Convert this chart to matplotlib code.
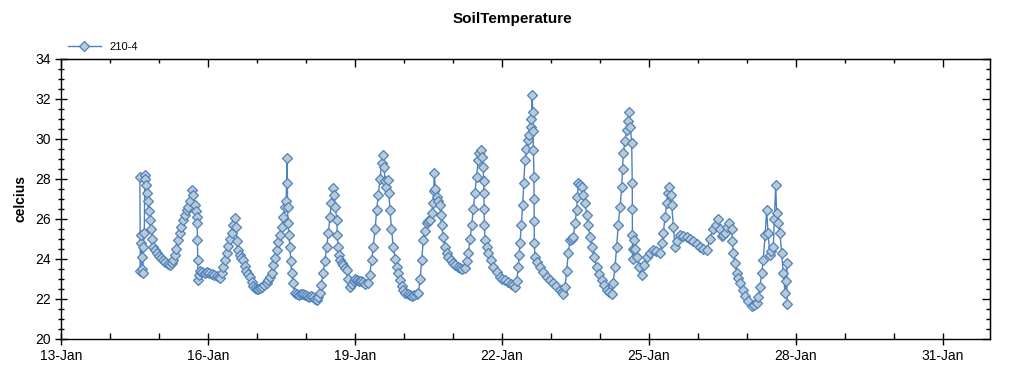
import matplotlib
matplotlib.use("Agg")
import matplotlib.pyplot as plt
import matplotlib.dates as mdates
import pandas as pd

plt.rcParams['font.family'] = ['Liberation Sans', 'DejaVu Sans']

# day of January (fractional) and soil temperature
days = [
    14.61, 14.62, 14.63, 14.64, 14.65, 14.66, 14.67, 14.68, 14.70, 14.71,
    14.72, 14.73, 14.749, 14.77, 14.79, 14.816, 14.84, 14.86, 14.884, 14.91,
    14.953, 15.0, 15.04, 15.082, 15.13, 15.18, 15.224, 15.26, 15.286, 15.32,
    15.35, 15.388, 15.42, 15.455, 15.49, 15.53, 15.565, 15.60, 15.63, 15.667,
    15.70, 15.735, 15.755, 15.776, 15.78, 15.785, 15.79, 15.795, 15.81, 15.84,
    15.88, 15.93, 15.98, 16.03, 16.08, 16.13, 16.18, 16.22, 16.245, 16.28,
    16.31, 16.345, 16.382, 16.415, 16.45, 16.484, 16.52, 16.551, 16.575, 16.59,
    16.612, 16.65, 16.68, 16.714, 16.75, 16.785, 16.82, 16.857, 16.89, 16.925,
    16.959, 17.0, 17.03, 17.061, 17.10, 17.15, 17.198, 17.23, 17.265, 17.300,
    17.335, 17.37, 17.402, 17.435, 17.47, 17.504, 17.54, 17.571, 17.595, 17.618,
    17.62, 17.625, 17.63, 17.65, 17.673, 17.69, 17.708, 17.74, 17.776, 17.82,
    17.86, 17.90, 17.939, 17.98, 18.02, 18.06, 18.10, 18.143, 18.18, 18.218,
    18.25, 18.286, 18.315, 18.347, 18.385, 18.422, 18.455, 18.490, 18.52, 18.551,
    18.575, 18.60, 18.627, 18.64, 18.653, 18.674, 18.694, 18.73, 18.765, 18.80,
    18.831, 18.865, 18.898, 18.93, 18.97, 19.0, 19.035, 19.08, 19.12, 19.163,
    19.21, 19.265, 19.30, 19.341, 19.37, 19.41, 19.443, 19.475, 19.51, 19.545,
    19.578, 19.595, 19.612, 19.64, 19.673, 19.69, 19.714, 19.745, 19.782, 19.82,
    19.85, 19.884, 19.92, 19.95, 19.986, 20.03, 20.082, 20.12, 20.157, 20.21,
    20.259, 20.292, 20.33, 20.361, 20.394, 20.43, 20.463, 20.50, 20.531, 20.565,
    20.598, 20.608, 20.618, 20.64, 20.667, 20.70, 20.735, 20.75, 20.769, 20.80,
    20.837, 20.87, 20.904, 20.95, 21.006, 21.05, 21.10, 21.143, 21.19, 21.245,
    21.28, 21.312, 21.35, 21.382, 21.415, 21.449, 21.48, 21.516, 21.54, 21.565,
    21.59, 21.618, 21.625, 21.633, 21.635, 21.64, 21.653, 21.685, 21.720, 21.77,
    21.822, 21.89, 21.959, 22.01, 22.07, 22.129, 22.18, 22.23, 22.265, 22.30,
    22.333, 22.35, 22.367, 22.395, 22.422, 22.445, 22.469, 22.50, 22.537, 22.56,
    22.586, 22.60, 22.618, 22.625, 22.632, 22.639, 22.653, 22.655, 22.657, 22.66,
    22.673, 22.72, 22.776, 22.84, 22.912, 22.98, 23.047, 23.11, 23.184, 23.22,
    23.251, 23.286, 23.32, 23.353, 23.388, 23.42, 23.455, 23.49, 23.524, 23.54,
    23.557, 23.59, 23.627, 23.66, 23.694, 23.73, 23.761, 23.795, 23.831, 23.88,
    23.933, 23.98, 24.035, 24.085, 24.137, 24.19, 24.239, 24.27, 24.306, 24.34,
    24.373, 24.41, 24.443, 24.46, 24.476, 24.51, 24.545, 24.57, 24.598, 24.62,
    24.647, 24.659, 24.66, 24.662, 24.665, 24.68, 24.694, 24.72, 24.749, 24.80,
    24.851, 24.90, 24.953, 25.02, 25.088, 25.15, 25.224, 25.26, 25.292, 25.33,
    25.361, 25.39, 25.414, 25.44, 25.463, 25.50, 25.531, 25.58, 25.633, 25.70,
    25.769, 25.84, 25.904, 25.97, 26.041, 26.11, 26.178, 26.245, 26.312, 26.36,
    26.414, 26.45, 26.483, 26.52, 26.551, 26.60, 26.639, 26.686, 26.70, 26.720,
    26.755, 26.789, 26.82, 26.857, 26.91, 26.959, 27.03, 27.096, 27.15, 27.198,
    27.23, 27.265, 27.30, 27.333, 27.37, 27.402, 27.43, 27.469, 27.50, 27.537,
    27.56, 27.586, 27.606, 27.64, 27.673, 27.708, 27.741, 27.776, 27.80, 27.810,
    27.82,
]
temps = [
    28.1, 23.4, 24.8, 25.2, 24.1, 23.5, 23.3, 24.6, 25.3, 28.2,
    28.0, 27.7, 27.3, 26.9, 26.4, 25.95, 25.5, 25.0, 24.6, 24.45,
    24.3, 24.15, 24.05, 23.95, 23.85, 23.75, 23.7, 23.8, 23.95, 24.2,
    24.5, 24.95, 25.3, 25.6, 25.95, 26.2, 26.45, 26.6, 26.9, 27.45,
    27.2, 26.7, 26.4, 26.1, 25.8, 24.95, 23.95, 22.95, 23.2, 23.4,
    23.35, 23.3, 23.35, 23.3, 23.25, 23.2, 23.15, 23.1, 23.05, 23.3,
    23.6, 23.95, 24.3, 24.65, 25.0, 25.3, 25.7, 26.05, 25.6, 24.9,
    24.45, 24.2, 24.05, 23.95, 23.65, 23.4, 23.25, 23.1, 22.85, 22.65,
    22.55, 22.5, 22.5, 22.55, 22.6, 22.7, 22.8, 22.95, 23.1, 23.3,
    23.7, 24.05, 24.45, 24.85, 25.2, 25.6, 26.1, 26.6, 26.9, 29.05,
    27.8, 26.6, 25.8, 25.2, 24.6, 23.9, 23.3, 22.8, 22.3, 22.25,
    22.2, 22.25, 22.25, 22.2, 22.15, 22.1, 22.15, 22.1, 22.0, 21.95,
    22.1, 22.3, 22.7, 23.3, 23.9, 24.6, 25.3, 26.1, 26.8, 27.55,
    27.2, 26.6, 25.95, 25.2, 24.6, 24.2, 23.95, 23.8, 23.7, 23.55,
    23.45, 23.0, 22.6, 22.75, 22.9, 23.0, 22.95, 22.9, 22.9, 22.85,
    22.75, 22.8, 23.2, 23.95, 24.6, 25.5, 26.45, 27.2, 28.0, 28.8,
    29.2, 28.6, 27.9, 27.6, 27.95, 27.3, 26.45, 25.5, 24.6, 24.0,
    23.6, 23.3, 22.95, 22.65, 22.45, 22.3, 22.25, 22.2, 22.15, 22.2,
    22.25, 22.3, 23.0, 23.95, 24.95, 25.4, 25.8, 25.9, 25.95, 26.3,
    26.8, 27.4, 28.3, 27.5, 27.1, 26.9, 26.7, 26.2, 25.7, 25.1,
    24.6, 24.3, 24.1, 23.95, 23.8, 23.7, 23.6, 23.55, 23.5, 23.55,
    23.9, 24.3, 25.0, 25.7, 26.5, 27.3, 28.1, 28.95, 29.3, 29.45,
    29.1, 28.6, 27.9, 27.3, 26.5, 25.7, 24.95, 24.6, 24.3, 23.95,
    23.6, 23.35, 23.1, 23.0, 22.95, 22.85, 22.75, 22.7, 22.6, 22.9,
    23.6, 24.2, 24.8, 25.7, 26.7, 27.8, 28.95, 29.5, 29.95, 30.2,
    30.6, 31.0, 32.2, 31.35, 30.4, 29.45, 28.1, 27.0, 25.9, 24.8,
    24.1, 23.85, 23.6, 23.35, 23.1, 22.95, 22.8, 22.65, 22.45, 22.35,
    22.25, 22.6, 23.4, 24.3, 24.95, 25.0, 25.1, 25.8, 26.45, 27.1,
    27.8, 27.7, 27.6, 27.2, 26.8, 26.2, 25.7, 25.1, 24.6, 24.1,
    23.6, 23.25, 22.95, 22.7, 22.45, 22.35, 22.25, 22.8, 23.6, 24.6,
    25.7, 26.6, 27.6, 28.5, 29.3, 29.9, 30.45, 30.9, 31.35, 30.6,
    29.8, 27.8, 26.5, 25.2, 24.0, 24.5, 24.95, 24.5, 24.1, 23.6,
    23.2, 23.7, 24.1, 24.3, 24.45, 24.4, 24.3, 24.8, 25.3, 26.1,
    26.8, 27.3, 27.6, 27.2, 26.7, 25.6, 24.6, 24.9, 25.2, 25.15,
    25.1, 25.0, 24.9, 24.75, 24.6, 24.5, 24.45, 25.0, 25.5, 25.7,
    26.0, 25.5, 25.15, 25.2, 25.3, 25.6, 25.8, 25.5, 24.9, 24.3,
    23.8, 23.3, 23.05, 22.8, 22.45, 22.15, 21.9, 21.65, 21.7, 21.8,
    22.1, 22.6, 23.3, 23.95, 25.2, 26.45, 25.3, 24.2, 24.4, 24.6,
    26.0, 27.7, 26.3, 25.8, 25.3, 24.3, 23.3, 22.3, 22.9, 23.8,
    21.75,
]

base = pd.Timestamp('2013-01-01')
times = [base + pd.Timedelta(days=d - 1) for d in days]

blue = '#4f81bd'
face = '#b8cad3'

fig = plt.figure(figsize=(10.24, 3.75), dpi=100)
ax = fig.add_axes([61 / 1024, 1 - 339 / 375, 929 / 1024, 280 / 375])

ax.plot(times, temps, color=blue, lw=1.0, marker='D', markersize=5,
        markerfacecolor=face, markeredgecolor=blue, markeredgewidth=0.9,
        label='210-4')

ax.set_xlim(base + pd.Timedelta(days=12), base + pd.Timedelta(days=30.96))
ax.set_ylim(20, 34)
ax.set_yticks(range(20, 35, 2))
ax.yaxis.set_minor_locator(plt.MultipleLocator(0.5))
major_days = mdates.DayLocator(bymonthday=range(1, 32, 3))
ax.xaxis.set_major_locator(major_days)
ax.xaxis.set_minor_locator(mdates.DayLocator())
ax.xaxis.set_major_formatter(mdates.DateFormatter('%d-%b'))

ax.tick_params(axis='both', which='major', direction='inout', length=9,
               width=1, labelsize=10, pad=3)
ax.tick_params(axis='y', which='minor', direction='inout', length=5, width=1)
ax.tick_params(axis='x', which='minor', direction='in', length=4, width=1)
for s in ax.spines.values():
    s.set_linewidth(1.0)

# top / right ticks without labels
top = ax.secondary_xaxis('top')
top.xaxis.set_major_locator(mdates.DayLocator(bymonthday=range(1, 32, 3)))
top.xaxis.set_minor_locator(mdates.DayLocator())
top.tick_params(which='major', direction='in', length=6, width=1, labeltop=False)
top.tick_params(which='minor', direction='in', length=3, width=1)
right = ax.secondary_yaxis('right')
right.set_yticks(range(20, 35, 2))
right.yaxis.set_minor_locator(plt.MultipleLocator(0.5))
right.tick_params(which='major', direction='in', length=6, width=1, labelright=False)
right.tick_params(which='minor', direction='in', length=3, width=1)

ax.set_ylabel('celcius', fontsize=10, fontweight='bold', labelpad=5)
fig.text(0.5, 0.95, 'SoilTemperature', ha='center', va='center',
         fontsize=11, fontweight='bold')
ax.legend(loc='lower left', bbox_to_anchor=(0.0, 1.0), frameon=False,
          fontsize=8, handlelength=3, borderaxespad=0.2)

fig.savefig('out.png', dpi=100)
